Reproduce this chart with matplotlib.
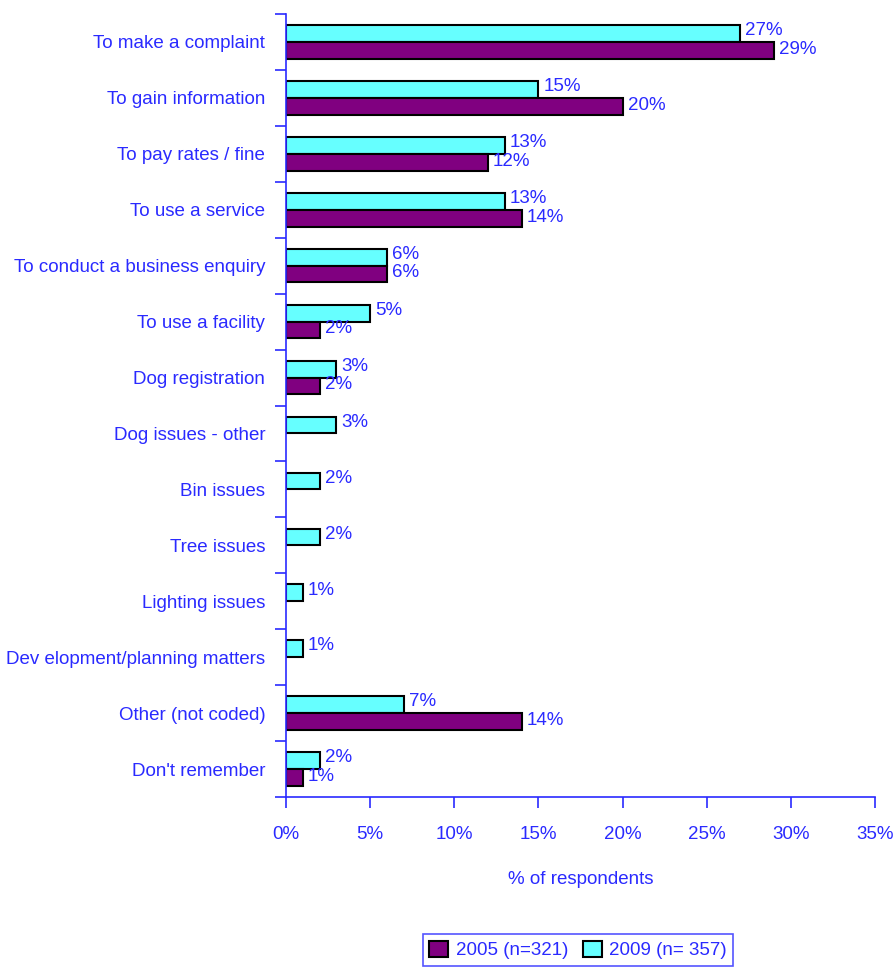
import numpy as np
import matplotlib.pyplot as plt
from matplotlib.ticker import FuncFormatter, MultipleLocator
from matplotlib.patches import Patch

categories = ["To make a complaint", "To gain information", "To pay rates / fine",
              "To use a service", "To conduct a business enquiry", "To use a facility",
              "Dog registration", "Dog issues - other", "Bin issues", "Tree issues",
              "Lighting issues", "Dev elopment/planning matters", "Other (not coded)",
              "Don't remember"]
vals_2009 = [27, 15, 13, 13, 6, 5, 3, 3, 2, 2, 1, 1, 7, 2]
vals_2005 = [29, 20, 12, 14, 6, 2, 2, None, None, None, None, None, 14, 1]

blue = '#2a2aff'
fs = 13.5
plt.rcParams['font.family'] = ['Liberation Sans Narrow', 'Liberation Sans', 'DejaVu Sans']

fig = plt.figure(figsize=(8.96, 9.74), dpi=100)
ax = fig.add_axes([286/896, 1 - 797/974, (875-286)/896, (797-14)/974])

n = len(categories)
y = np.arange(n)
h = 0.3
c09, c05 = '#66ffff', '#800080'

for i in range(n):
    v9 = vals_2009[i]
    ax.barh(i - h/2, v9, height=h, color=c09, edgecolor='black', linewidth=1.5)
    ax.text(v9 + 0.3, i - h/2 - 0.05, f"{v9}%", color=blue, fontsize=fs, va='center', ha='left')
    v5 = vals_2005[i]
    if v5 is not None:
        ax.barh(i + h/2, v5, height=h, color=c05, edgecolor='black', linewidth=1.5)
        ax.text(v5 + 0.3, i + h/2 - 0.02, f"{v5}%", color=blue, fontsize=fs, va='center', ha='left')

ax.set_xlim(0, 35)
ax.set_ylim(n - 0.5, -0.5)
ax.xaxis.set_major_locator(MultipleLocator(5))
ax.xaxis.set_major_formatter(FuncFormatter(lambda v, p: f"{int(v)}%"))
ax.set_yticks(y)
ax.set_yticklabels(categories)
ax.set_yticks(np.arange(n + 1) - 0.5, minor=True)
ax.tick_params(axis='y', which='major', length=0, pad=15, labelsize=fs, labelcolor=blue)
ax.tick_params(axis='y', which='minor', length=8, width=1.2, color=blue)
ax.tick_params(axis='x', length=8, width=1.2, color=blue, pad=13, labelsize=fs, labelcolor=blue)

for s in ['top', 'right']:
    ax.spines[s].set_visible(False)
for s in ['left', 'bottom']:
    ax.spines[s].set_color(blue)
    ax.spines[s].set_linewidth(1.2)

ax.set_xlabel('% of respondents', color=blue, fontsize=fs, labelpad=20)

handles = [Patch(facecolor=c05, edgecolor='black', linewidth=1.5, label='2005 (n=321)'),
           Patch(facecolor=c09, edgecolor='black', linewidth=1.5, label='2009 (n= 357)')]
leg = fig.legend(handles=handles, loc='center', bbox_to_anchor=(578/896, 1 - 950/974), ncol=2,
                 frameon=True, fancybox=False, fontsize=fs, handlelength=1.0, handleheight=1.0,
                 handletextpad=0.4, columnspacing=0.8, borderpad=0.35)
leg.get_frame().set_edgecolor(blue)
leg.get_frame().set_linewidth(1.2)
for t in leg.get_texts():
    t.set_color(blue)

fig.savefig('out.png', dpi=100)
